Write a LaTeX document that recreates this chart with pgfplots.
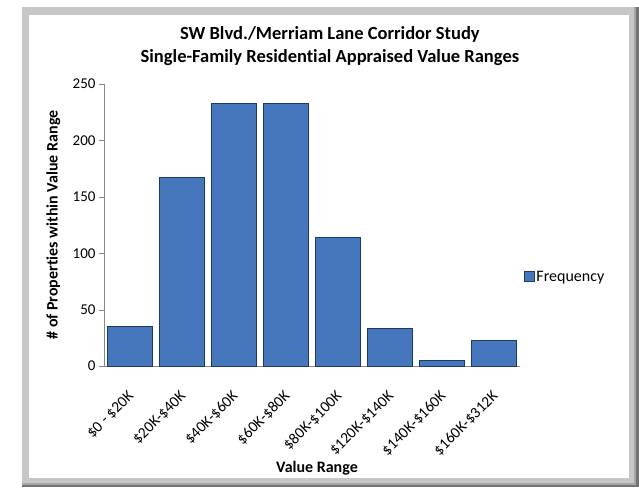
\documentclass[border=0pt]{standalone}
\usepackage{pgfplots}
\pgfplotsset{compat=1.18}
\usepackage{fontspec}
\setmainfont[Ligatures=NoCommon]{Carlito}
\definecolor{barblue}{HTML}{4677BD}
\definecolor{bardark}{HTML}{1E3A60}
\definecolor{axgray}{HTML}{868686}
\begin{document}
\begin{tikzpicture}
\useasboundingbox (-104bp,-124bp) rectangle (535bp,366bp);
\fill[white] (-104bp,-124bp) rectangle (535bp,366bp);
% frame with soft shadow
\fill[black!55] (-82bp,-121bp) rectangle (535bp,359bp);
\fill[black!35] (-82bp,-119bp) rectangle (532bp,359bp);
\fill[black!22] (-82bp,-117bp) rectangle (530bp,359bp);
\fill[white] (-75bp,-112bp) rectangle (525bp,351bp);
\begin{axis}[
  scale only axis, width=416bp, height=282bp,
  xmin=-0.5, xmax=7.5, ymin=0, ymax=250,
  ybar, bar width=0.85, bar shift=0pt,
  axis lines*=left,
  axis line style={axgray},
  tick align=outside,
  major tick length=5bp,
  minor tick length=5bp,
  ytick={0,50,...,250},
  xtick={0,...,7},
  xticklabels={\$0 - \$20K,\$20K-\$40K,\$40K-\$60K,\$60K-\$80K,\$80K-\$100K,\$120K-\$140K,\$140K-\$160K,\$160K-\$312K},
  minor xtick={-0.5,0.5,...,7.5},
  xtick style={draw=none},
  minor x tick style={axgray},
  ytick style={axgray},
  x tick label style={rotate=45, anchor=north east, font=\fontsize{15.5bp}{17bp}\selectfont, inner sep=1pt, xshift=-14bp, yshift=-10bp},
  y tick label style={font=\fontsize{15bp}{17bp}\selectfont},
  /pgf/number format/assume math mode=true,
  title={SW Blvd./Merriam Lane Corridor Study\\Single-Family Residential Appraised Value Ranges},
  title style={at={(axis description cs:0.543,1.112)}, anchor=center, align=center, font=\bfseries\fontsize{18.5bp}{23bp}\selectfont},
  xlabel={Value Range},
  xlabel style={at={(axis description cs:0.512,-0.362)}, anchor=center, font=\bfseries\fontsize{16bp}{18bp}\selectfont},
  ylabel={\# of Properties within Value Range},
  ylabel style={at={(axis description cs:-0.122,0.5)}, anchor=center, font=\bfseries\fontsize{16bp}{18bp}\selectfont},
  legend style={at={(axis description cs:1.008,0.316)}, anchor=west, draw=none, fill=none, font=\fontsize{16bp}{18bp}\selectfont, inner sep=0pt},
  legend image code/.code={\fill[barblue,draw=bardark] (0bp,-5bp) rectangle (10bp,5bp);},
  legend cell align=left,
]
\addplot[draw=bardark, line width=0.9bp, fill=barblue] coordinates {
  (0,35) (1,167) (2,233) (3,233) (4,114) (5,33) (6,5) (7,23)
};
\addlegendentry{Frequency}
\end{axis}
\end{tikzpicture}
\end{document}
